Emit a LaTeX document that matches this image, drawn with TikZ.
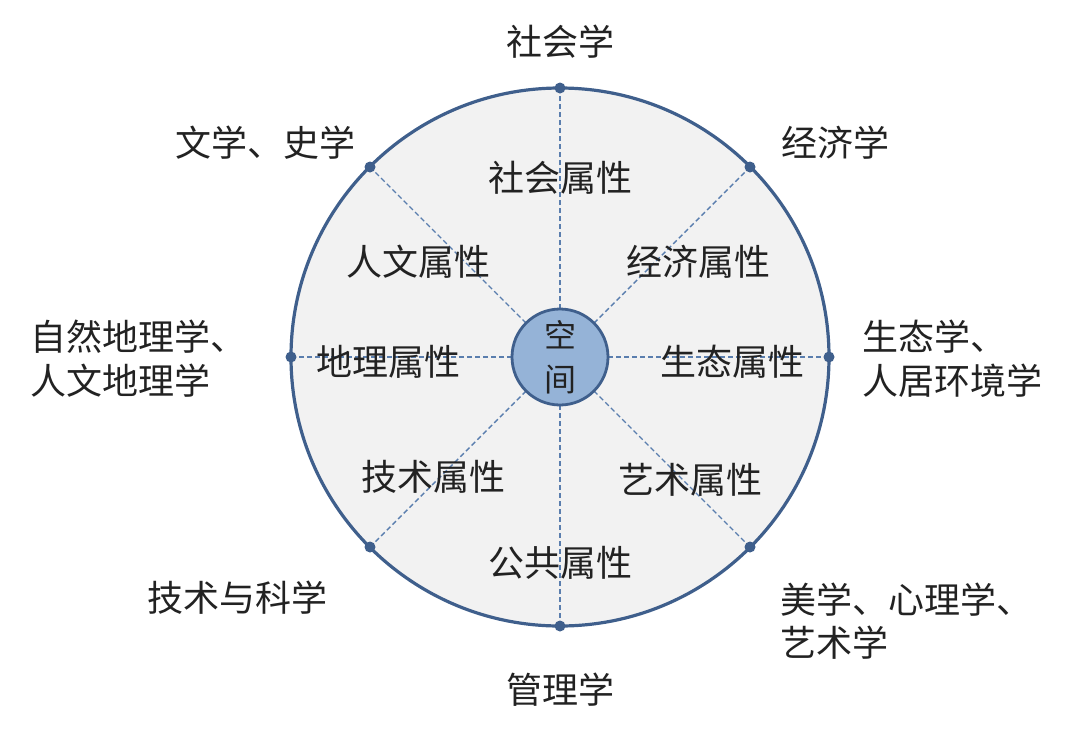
\documentclass[tikz,border=0pt]{standalone}
\usepackage{fontspec}
\setmainfont{Noto Sans CJK SC}
\definecolor{rim}{HTML}{3F5F8C}
\definecolor{spk}{HTML}{5A7EAE}
\definecolor{disk}{HTML}{F2F2F2}
\definecolor{hub}{HTML}{95B3D7}
\definecolor{txt}{HTML}{222222}
\tikzset{
  lab/.style={text=txt,font=\fontsize{36}{44}\selectfont,inner sep=0pt},
  inlab/.style={text=txt,font=\fontsize{36}{44}\selectfont,inner sep=0pt},
  spoke/.style={spk,dash pattern=on 5pt off 3pt,line width=1.4pt},
  dot/.style={circle,fill=rim,inner sep=0pt,minimum size=11pt}
}
\begin{document}
\begin{tikzpicture}[x=1pt,y=-1pt]
\useasboundingbox (0,0) rectangle (1080,732);
\coordinate (C) at (560,357);
\fill[disk] (C) circle (269);
\coordinate (t) at (560,88);
\coordinate (b) at (560,626);
\coordinate (l) at (291,357);
\coordinate (r) at (829,357);
\coordinate (tl) at (370,167);
\coordinate (tr) at (750,167);
\coordinate (bl) at (370,547);
\coordinate (br) at (750,547);
\foreach \n in {t,tr,r,br,b,bl,l,tl}{\draw[spoke] (C) -- (\n);}
\draw[rim,line width=3.2pt] (C) circle (269);
\foreach \n in {t,tr,r,br,b,bl,l,tl}{\node[dot] (d\n) at (\n) {};}
\node[circle,fill=hub,draw=rim,line width=2.8pt,minimum size=96pt,inner sep=0pt] (hubn) at (C) {};
\node[lab,font=\fontsize{32}{40}\selectfont] (k1) at (560,335) {空};
\node[lab,font=\fontsize{32}{40}\selectfont] (k2) at (560,380) {间};
\node[inlab] (i1) at (560,178) {社会属性};
\node[inlab] (i2) at (418,262) {人文属性};
\node[inlab] (i3) at (698,262) {经济属性};
\node[inlab] (i4) at (388,362) {地理属性};
\node[inlab] (i5) at (732,362) {生态属性};
\node[inlab] (i6) at (433,477) {技术属性};
\node[inlab] (i7) at (690,480) {艺术属性};
\node[inlab] (i8) at (560,563) {公共属性};
\node[lab] (o1) at (560,42) {社会学};
\node[lab] (o2) at (265,143) {文学、史学};
\node[lab] (o3) at (835,143) {经济学};
\node[lab,anchor=west] (o4a) at (30,337) {自然地理学、};
\node[lab,anchor=west] (o4b) at (30,381) {人文地理学};
\node[lab,anchor=west] (o5a) at (862,337) {生态学、};
\node[lab,anchor=west] (o5b) at (862,381) {人居环境学};
\node[lab] (o6) at (237,598) {技术与科学};
\node[lab,anchor=west] (o7a) at (780,600) {美学、心理学、};
\node[lab,anchor=west] (o7b) at (780,643) {艺术学};
\node[lab] (o8) at (560,690) {管理学};
\end{tikzpicture}
\end{document}
